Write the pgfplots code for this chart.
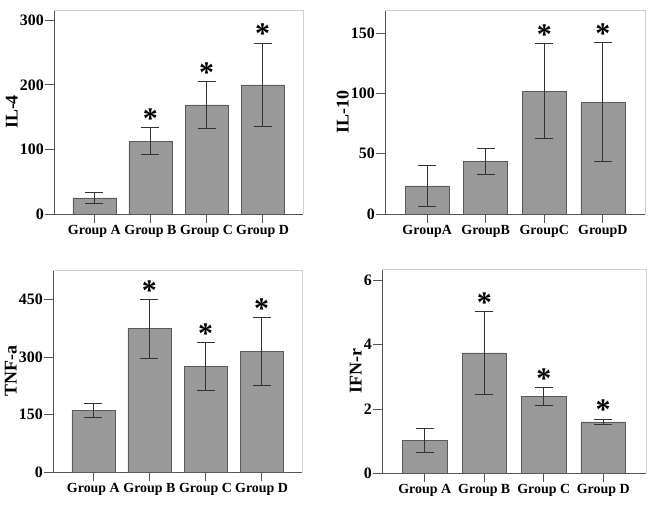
\documentclass[border=0pt]{standalone}
\usepackage{fontspec}
\setmainfont{Liberation Serif}
\usepackage{pgfplots}
\pgfplotsset{compat=1.18}
\definecolor{barfill}{HTML}{999999}
\definecolor{baredge}{HTML}{5A5A5A}
\definecolor{framec}{HTML}{CFCFCF}
\definecolor{axisc}{HTML}{555555}
\pgfplotsset{
  panel/.style={
    scale only axis,
    ymin=0,
    xmin=-0.72, xmax=3.72,
    axis x line*=bottom, axis y line*=left,
    axis line style={axisc, line width=0.8pt},
    tick align=outside,
    major tick length=9bp,
    tick style={axisc, line width=0.8pt},
    xtick={0,1,2,3},
    /pgf/number format/assume math mode=true,
    yticklabel style={font=\fontsize{16}{16}\selectfont\bfseries, inner sep=1bp},
    xticklabel style={font=\fontsize{14}{14}\selectfont\bfseries, inner sep=2bp},
    ylabel style={font=\fontsize{18}{18}\selectfont\bfseries, inner sep=1bp},
    after end axis/.code={\draw[framec, line width=0.8pt] (rel axis cs:0,1) -- (rel axis cs:1,1) -- (rel axis cs:1,0);},
  },
  bars/.style={
    ybar, bar width=43bp, fill=barfill, draw=baredge, line width=0.6pt,
    error bars/y dir=both, error bars/y explicit,
    error bars/error bar style={black!80, line width=0.8pt},
    error bars/error mark options={rotate=90, mark size=9bp, black!80, line width=0.8pt},
  },
  stars/.style={
    draw=none, mark=none,
    nodes near coords={*},
    every node near coord/.style={anchor=base, yshift=-1bp, inner sep=0pt,
      font=\fontsize{30}{30}\selectfont\bfseries},
  },
}
\begin{document}
\begin{tikzpicture}
\useasboundingbox (0,0) rectangle (654bp,505bp);
% IL-4
\begin{axis}[panel, at={(54bp,291bp)}, anchor=south west, width=249bp, height=204bp,
  ymax=316, ytick={0,100,200,300}, ylabel={IL-4},
  xticklabels={Group A,Group B,Group C,Group D}]
\addplot[bars] coordinates {(0,25) +- (0,8.3) (1,113) +- (0,21) (2,169) +- (0,37) (3,200) +- (0,65)};
\addplot[stars] coordinates {(1,134) (2,206) (3,265)};
\end{axis}
% IL-10
\begin{axis}[panel, at={(385bp,291bp)}, anchor=south west, width=260bp, height=204bp,
  ymax=169, ytick={0,50,100,150}, ylabel={IL-10},
  xticklabels={GroupA,GroupB,GroupC,GroupD}]
\addplot[bars, bar width=44bp] coordinates {(0,23.2) +- (0,16.7) (1,43.6) +- (0,10.6) (2,101.8) +- (0,39.2) (3,92.7) +- (0,49.2)};
\addplot[stars] coordinates {(2,141.2) (3,142)};
\end{axis}
% TNF-a
\begin{axis}[panel, at={(53bp,32.7bp)}, anchor=south west, width=249bp, height=202bp,
  ymax=526, ytick={0,150,300,450}, ylabel={TNF-a},
  xticklabels={Group A,Group B,Group C,Group D}]
\addplot[bars] coordinates {(0,162) +- (0,18.5) (1,374) +- (0,77) (2,275.5) +- (0,62.5) (3,314.5) +- (0,88)};
\addplot[stars] coordinates {(1,451) (2,337.5) (3,402.5)};
\end{axis}
% IFN-r
\begin{axis}[panel, at={(382bp,31.7bp)}, anchor=south west, width=264bp, height=204bp,
  ymax=6.34, ytick={0,2,4,6}, ylabel={IFN-r},
  xticklabels={Group A,Group B,Group C,Group D}]
\addplot[bars, bar width=44.5bp] coordinates {(0,1.02) +- (0,0.38) (1,3.74) +- (0,1.3) (2,2.39) +- (0,0.27) (3,1.60) +- (0,0.085)};
\addplot[stars] coordinates {(1,5.04) (2,2.66) (3,1.70)};
\end{axis}
\end{tikzpicture}
\end{document}
